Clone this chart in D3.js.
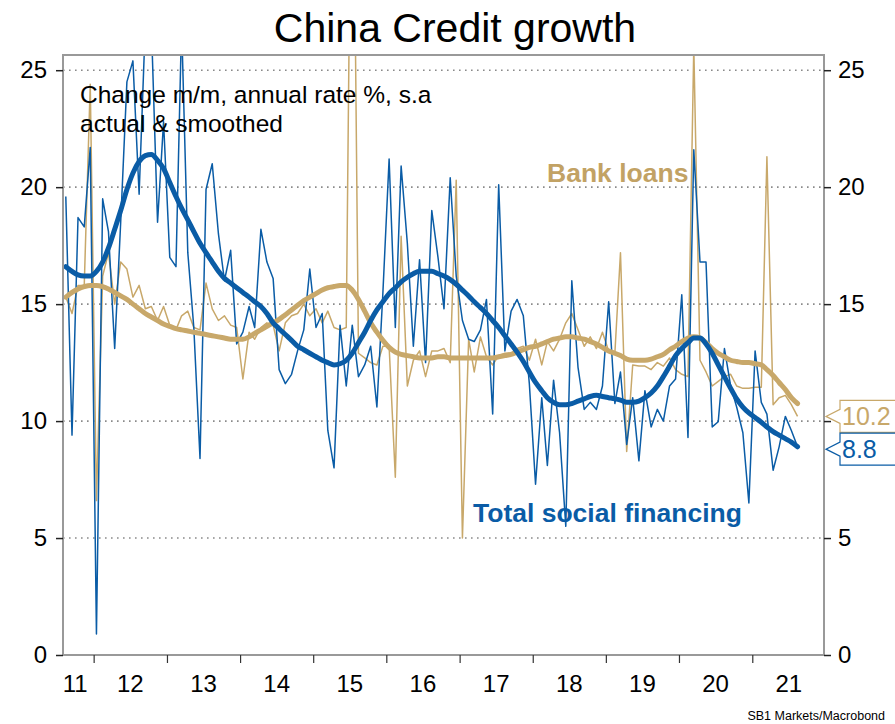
<!DOCTYPE html>
<html><head><meta charset="utf-8">
<script src="https://cdn.jsdelivr.net/npm/d3@7"></script>
<style>
html,body{margin:0;padding:0;background:#fff;}
svg{display:block;font-family:"Liberation Sans",Arial,sans-serif;}
</style></head>
<body><svg id="c" width="895" height="724"></svg>
<script>
// ---- data (monthly, first month Aug 2011) ----
const firstMonth = [2011, 7]; // year, zero-based month
const tsfActual = [19.6,9.4,18.7,18.3,21.7,0.9,19.5,18.1,13.1,18.5,24.5,25.4,19.7,27,27,18.5,22.8,17.0,16.6,27,
17.2,14.0,8.4,19.9,21.0,18.0,16.0,17.3,13.3,13.8,14.9,14.0,18.2,16.8,16.1,12.2,11.6,12.0,13.0,13.9,
16.5,14.0,14.6,9.6,8.0,14.1,11.5,14.1,11.9,12.4,13.2,10.6,15.5,21.2,14.0,20.9,17.6,13.2,16.9,12.5,
19.0,17.0,14.8,20.4,16.2,14.3,13.5,13.4,13.9,15.2,10.3,20.1,13.0,14.7,15.2,14.5,11.6,7.3,11.0,8.1,
11.75,9.5,5.5,16.0,12.3,10.5,10.8,10.5,11.5,15.1,10.75,12.1,9.0,11.0,8.3,11.3,9.75,10.5,10.0,11.5,
11.8,15.4,9.3,21.6,16.8,16.8,9.75,9.97,13.1,11.5,10.6,9.5,6.5,13.0,10.8,10.3,7.9,8.9,10.2,9.6,8.9];
const loansActual = [15.3,14.6,15.8,15.8,24.4,6.6,16.2,17.2,15.0,16.8,16.5,15.3,15.8,14.8,14.9,14.3,14.9,14.1,13.9,14.5,
14.7,14.0,13.9,15.9,14.8,14.3,14.5,14.1,14.0,11.8,13.8,13.5,14.0,14.2,14.1,13.0,14.2,14.5,14.6,15.0,
14.5,14.8,14.2,14.7,14.0,13.9,14.0,40,12.9,12.7,12.5,12.4,13.2,13.2,7.6,17.9,11.5,12.6,13.0,11.9,
13.0,13.0,13.1,12.5,20.3,5.0,13.5,12.1,13.6,12.75,12.4,12.8,12.9,12.9,13.1,13.2,12.6,13.5,12.4,13.4,
13.0,13.5,14.2,14.6,13.9,13.2,13.6,13.1,13.8,13.0,12.9,17.2,8.7,12.4,12.35,12.35,12.2,12.5,12.35,12.7,
12.2,12.0,11.9,26,12.6,12.1,11.5,11.7,11.9,12.0,11.5,11.4,11.4,11.45,11.45,21.3,10.7,11.0,11.1,10.7,10.2];
const tsfSmooth = [16.6,16.4,16.25,16.2,16.2,16.4,16.8,17.4,18.2,19.0,19.9,20.6,21.1,21.35,21.4,21.15,20.8,20.2,19.6,19.1,
18.6,18.1,17.6,17.2,16.8,16.4,16.1,15.9,15.7,15.5,15.3,15.1,14.9,14.6,14.2,13.95,13.7,13.45,13.2,13.05,
12.9,12.75,12.6,12.5,12.4,12.45,12.6,12.9,13.35,13.8,14.3,14.75,15.1,15.45,15.7,15.95,16.15,16.3,16.4,16.4,
16.4,16.3,16.2,16.05,15.85,15.6,15.35,15.1,14.85,14.6,14.3,14.0,13.65,13.3,12.95,12.55,12.1,11.65,11.3,11.0,
10.8,10.7,10.7,10.75,10.85,10.95,11.05,11.1,11.05,11.0,10.95,10.9,10.8,10.8,10.85,11.0,11.2,11.5,11.9,12.35,
12.8,13.1,13.35,13.55,13.55,13.3,12.9,12.4,11.9,11.4,10.95,10.6,10.35,10.15,9.95,9.75,9.55,9.4,9.25,9.1,8.9];
const loansSmooth = [15.3,15.5,15.65,15.75,15.8,15.8,15.75,15.65,15.5,15.35,15.2,15.0,14.8,14.6,14.45,14.3,14.15,14.05,13.95,13.9,
13.85,13.8,13.75,13.7,13.65,13.6,13.55,13.5,13.5,13.5,13.6,13.75,13.9,14.05,14.2,14.35,14.55,14.75,14.95,15.15,
15.3,15.45,15.6,15.7,15.75,15.8,15.8,15.6,15.2,14.7,14.2,13.8,13.45,13.15,12.95,12.85,12.8,12.75,12.7,12.7,
12.7,12.75,12.75,12.7,12.7,12.7,12.7,12.7,12.7,12.7,12.7,12.75,12.8,12.85,12.95,13.05,13.15,13.2,13.3,13.4,
13.5,13.55,13.6,13.6,13.55,13.5,13.4,13.3,13.15,13.0,12.9,12.8,12.65,12.6,12.6,12.6,12.65,12.75,12.85,13.05,
13.2,13.4,13.55,13.6,13.55,13.35,13.1,12.9,12.75,12.6,12.55,12.5,12.5,12.45,12.4,12.2,11.95,11.65,11.35,11.0,10.75];
const yTicks = [0,5,10,15,20,25];
const yearTicks = [2012,2013,2014,2015,2016,2017,2018,2019,2020,2021];
const yearLabels = ["11","12","13","14","15","16","17","18","19","20","21"];
const lastLabels = [{text:"10.2", value:10.2, key:"loans"},{text:"8.8", value:8.8, key:"tsf"}];

// ---- styles ----
const BLUE = "#0a5ca6", GOLD = "#c8a86a";
const W = 895, H = 724;
const L = 63, R = 824, T = 55, B = 655;

const svg = d3.select("#c");
const dates = d3.range(tsfActual.length).map(i => new Date(firstMonth[0], firstMonth[1] + i, 15));
const x = d3.scaleTime().domain([new Date(2011,7,1), new Date(2021,11,25)]).range([L, R]);
const y = d3.scaleLinear().domain([0, 25.65]).range([B, T]);

svg.append("rect").attr("width", W).attr("height", H).attr("fill", "#fff");

// title
svg.append("text").attr("x", 455).attr("y", 42).attr("text-anchor", "middle")
  .attr("font-size", 41).attr("fill", "#000").text("China Credit growth");

// grid
svg.append("g").selectAll("line").data(yTicks.filter(d => d > 0)).join("line")
  .attr("x1", L).attr("x2", R).attr("y1", d => y(d)).attr("y2", d => y(d))
  .attr("stroke", "#8a8a8a").attr("stroke-width", 1.6).attr("stroke-dasharray", "1.6,4.4");

// clip
svg.append("clipPath").attr("id", "clip").append("rect")
  .attr("x", L).attr("y", T).attr("width", R - L).attr("height", B - T);

const line = d3.line().x((d, i) => x(dates[i])).y(d => y(d));
const smooth = d3.line().x((d, i) => x(dates[i])).y(d => y(d)).curve(d3.curveMonotoneX);
const g = svg.append("g").attr("clip-path", "url(#clip)");
g.append("path").attr("d", line(loansActual)).attr("fill", "none").attr("stroke", GOLD).attr("stroke-width", 1.5).attr("stroke-linejoin", "round");
g.append("path").attr("d", line(tsfActual)).attr("fill", "none").attr("stroke", BLUE).attr("stroke-width", 1.5).attr("stroke-linejoin", "round");
g.append("path").attr("d", smooth(loansSmooth)).attr("fill", "none").attr("stroke", GOLD).attr("stroke-width", 5).attr("stroke-linecap", "round");
g.append("path").attr("d", smooth(tsfSmooth)).attr("fill", "none").attr("stroke", BLUE).attr("stroke-width", 5).attr("stroke-linecap", "round");

// frame
svg.append("rect").attr("x", L).attr("y", T).attr("width", R - L).attr("height", B - T)
  .attr("fill", "none").attr("stroke", "#999").attr("stroke-width", 2);

// y axes
const yl = svg.append("g").attr("transform", `translate(${L},0)`)
  .call(d3.axisLeft(y).tickValues(yTicks).tickSize(7).tickPadding(9));
const yr = svg.append("g").attr("transform", `translate(${R},0)`)
  .call(d3.axisRight(y).tickValues(yTicks).tickSize(7).tickPadding(7));
[yl, yr].forEach(a => {
  a.select(".domain").remove();
  a.selectAll("line").attr("stroke", "#222").attr("stroke-width", 1.5);
  a.selectAll("text").attr("font-size", 24).attr("fill", "#000")
    .attr("font-family", '"Liberation Sans",Arial,sans-serif');
});
// right-hand "10" is covered by the last-value label
yr.selectAll(".tick").filter(d => d === 10).select("text").remove();

// x axis
const xa = svg.append("g").attr("transform", `translate(0,${B})`)
  .call(d3.axisBottom(x).tickValues(yearTicks.map(yv => new Date(yv, 0, 1))).tickSize(8).tickFormat(""));
xa.select(".domain").remove();
xa.selectAll("line").attr("stroke", "#333").attr("stroke-width", 1.2);
const bounds = [new Date(2011, 6, 1), ...yearTicks.map(yv => new Date(yv, 0, 1)), new Date(2022, 0, 1)];
svg.append("g").selectAll("text").data(yearLabels).join("text")
  .attr("x", (d, i) => (x(bounds[i]) + Math.min(x(bounds[i + 1]), R + 3)) / 2)
  .attr("y", 692).attr("text-anchor", "middle").attr("font-size", 24).attr("fill", "#000")
  .text(d => d);

// annotation text
svg.append("text").attr("x", 80).attr("y", 103).attr("font-size", 24.5).text("Change m/m, annual rate %, s.a");
svg.append("text").attr("x", 80).attr("y", 132).attr("font-size", 24.5).text("actual & smoothed");
svg.append("text").attr("x", 547).attr("y", 182).attr("font-size", 26.5).attr("font-weight", "bold")
  .attr("fill", "#c2a264").text("Bank loans");
svg.append("text").attr("x", 473).attr("y", 522).attr("font-size", 26.5).attr("font-weight", "bold")
  .attr("fill", BLUE).text("Total social financing");

// last value labels
lastLabels.forEach(lb => {
  const c = lb.key === "loans" ? GOLD : BLUE;
  const yy = y(lb.value);
  const x0 = R + 16, x1 = W + 5, tip = R + 2;
  const p = d3.path();
  p.moveTo(x0, yy - 16); p.lineTo(x1, yy - 16); p.lineTo(x1, yy + 16); p.lineTo(x0, yy + 16);
  p.lineTo(x0, yy + 7); p.lineTo(tip, yy); p.lineTo(x0, yy - 7); p.closePath();
  svg.append("path").attr("d", p.toString()).attr("fill", "#fff").attr("stroke", c).attr("stroke-width", 1.2);
  svg.append("text").attr("x", x0 + 2).attr("y", yy + 9).attr("font-size", 25).attr("fill", c).text(lb.text);
});

// source
svg.append("text").attr("x", 885).attr("y", 720).attr("text-anchor", "end")
  .attr("font-size", 12.5).attr("fill", "#000").text("SB1 Markets/Macrobond");
</script></body></html>
